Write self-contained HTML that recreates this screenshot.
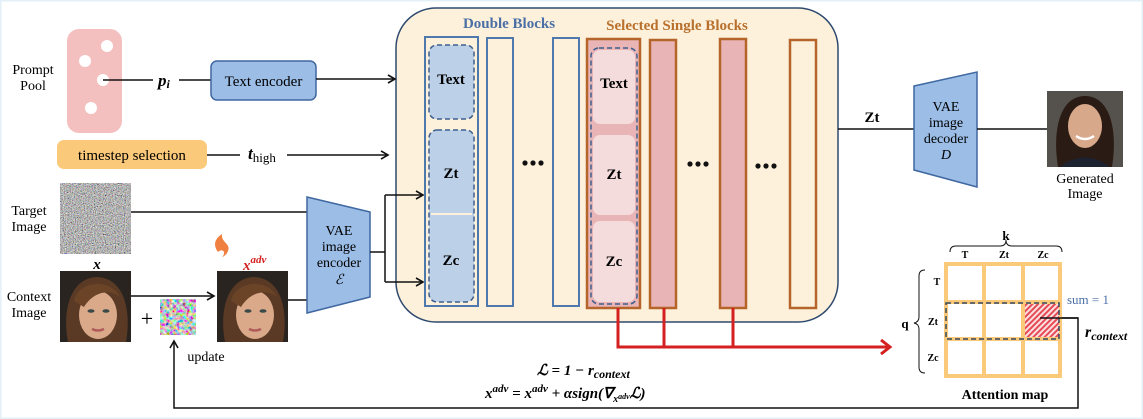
<!DOCTYPE html>
<html><head><meta charset="utf-8"><style>
html,body{margin:0;padding:0;background:#fff}
svg{display:block}
text{font-family:"Liberation Serif",serif}
</style></head><body>
<svg width="1143" height="419" viewBox="0 0 1143 419" xmlns="http://www.w3.org/2000/svg">
<defs>
<marker id="ar" markerWidth="10" markerHeight="10" refX="8" refY="5" orient="auto" markerUnits="userSpaceOnUse"><path d="M1,1 L8,5 L1,9" fill="none" stroke="#111" stroke-width="1.6"/></marker>
<marker id="arr" markerWidth="14" markerHeight="16" refX="11" refY="8" orient="auto" markerUnits="userSpaceOnUse"><path d="M2,1 L11,8 L2,15" fill="none" stroke="#d42020" stroke-width="3"/></marker>
<pattern id="hatch" width="4" height="4" patternUnits="userSpaceOnUse" patternTransform="rotate(45)"><rect width="4" height="4" fill="#fbe0e0"/><rect width="2" height="4" fill="#e64a56"/></pattern>
<filter id="noise" x="0" y="0" width="100%" height="100%"><feTurbulence type="fractalNoise" baseFrequency="0.9" numOctaves="2" seed="3"/><feColorMatrix type="matrix" values="1.2 0.5 0.3 0 -0.55  0.4 1.2 0.4 0 -0.55  0.3 0.5 1.2 0 -0.55  0 0 0 0 1"/></filter>
<filter id="noise2" x="0" y="0" width="100%" height="100%"><feTurbulence type="fractalNoise" baseFrequency="0.3" numOctaves="2" seed="7"/><feColorMatrix type="matrix" values="2.2 0 -0.5 0 -0.3  -0.5 2.2 0 0 -0.3  0 -0.5 2.2 0 -0.3  0 0 0 0 1"/></filter>
<g id="face">
<rect x="0" y="0" width="71" height="71" fill="#2a2420"/>
<path d="M8,71 C2,40 10,8 36,6 C62,6 72,35 66,71 Z" fill="#5a3a24"/>
<ellipse cx="38" cy="44" rx="19" ry="24" fill="#d9a98a"/>
<path d="M14,30 C18,10 50,6 60,26 C50,18 34,20 24,36 Z" fill="#6b4428"/>
<ellipse cx="31" cy="40" rx="3.5" ry="1.8" fill="#3b4a48"/><ellipse cx="46" cy="40" rx="3.5" ry="1.8" fill="#3b4a48"/>
<path d="M32,58 Q38,61 44,58" stroke="#b05a5a" stroke-width="2.5" fill="none"/>
</g>
</defs>
<rect x="0.5" y="0.5" width="1142" height="418" fill="#fff" stroke="#e3f0f8" stroke-width="2"/>

<rect x="396" y="8" width="442" height="314" rx="40" fill="#fdf1dc" stroke="#2e4a6e" stroke-width="1.5"/>

<text x="33" y="74" font-size="14" text-anchor="middle">Prompt</text>
<text x="33" y="90" font-size="14" text-anchor="middle">Pool</text>
<rect x="67" y="29" width="55" height="104" rx="12" fill="#f4c0bf"/>
<circle cx="107" cy="46" r="6" fill="#fff"/><circle cx="85" cy="61" r="6" fill="#fff"/><circle cx="103" cy="80" r="6" fill="#fff"/><circle cx="91" cy="108" r="6" fill="#fff"/>
<line x1="103" y1="80" x2="153" y2="80" stroke="#111" stroke-width="1.5"/>
<text x="158" y="86" font-size="17" font-weight="bold" font-style="italic">p<tspan font-size="12" dy="2">i</tspan></text>
<line x1="179" y1="80" x2="211" y2="80" stroke="#111" stroke-width="1.5"/>
<rect x="211" y="61" width="105" height="39" rx="6" fill="#9bbde6" stroke="#3f67a0" stroke-width="1.5"/>
<text x="263.5" y="86" font-size="15" text-anchor="middle">Text encoder</text>
<line x1="316" y1="79" x2="395" y2="79" stroke="#111" stroke-width="1.5" marker-end="url(#ar)"/>

<rect x="57" y="140" width="150" height="29" rx="7" fill="#fbc97a"/>
<text x="132" y="160" font-size="15" text-anchor="middle">timestep selection</text>
<line x1="207" y1="155" x2="240" y2="155" stroke="#111" stroke-width="1.5"/>
<text x="248" y="159" font-size="17" font-weight="bold" font-style="italic">t<tspan font-size="13" font-weight="normal" font-style="normal" dy="3">high</tspan></text>
<line x1="287" y1="155" x2="388" y2="155" stroke="#111" stroke-width="1.5" marker-end="url(#ar)"/>

<text x="29" y="215" font-size="14" text-anchor="middle">Target</text>
<text x="29" y="231" font-size="14" text-anchor="middle">Image</text>
<rect x="60" y="183" width="71" height="71" fill="#888"/>
<rect x="60" y="183" width="71" height="71" filter="url(#noise)"/>
<line x1="131" y1="212" x2="307" y2="212" stroke="#111" stroke-width="1.5"/>
<text x="97" y="269" font-size="15" font-weight="bold" font-style="italic" text-anchor="middle">x</text>
<text x="29" y="301" font-size="14" text-anchor="middle">Context</text>
<text x="29" y="317" font-size="14" text-anchor="middle">Image</text>
<use href="#face" x="60" y="271"/>
<line x1="131" y1="296" x2="214" y2="296" stroke="#111" stroke-width="1.5" marker-end="url(#ar)"/>
<text x="147" y="326" font-size="22" text-anchor="middle">+</text>
<rect x="160" y="299" width="36" height="36" filter="url(#noise2)"/>
<text x="206" y="361" font-size="14" text-anchor="middle">update</text>
<path d="M218,252 C212,244 216,238 222,234 C221,240 226,242 228,246 C230,250 226,256 222,257 C227,252 222,248 218,252 Z" fill="#f08040"/>
<text x="243" y="270" font-size="15" font-weight="bold" font-style="italic" fill="#d42020">x<tspan font-size="11" dy="-7">adv</tspan></text>
<use href="#face" x="217" y="271"/>
<line x1="288" y1="300" x2="307" y2="300" stroke="#111" stroke-width="1.5"/>

<polygon points="307,197 370,212 370,297 307,313" fill="#9bbde6" stroke="#3f67a0" stroke-width="1.5"/>
<text x="339" y="235" font-size="14" text-anchor="middle">VAE</text>
<text x="339" y="251" font-size="14" text-anchor="middle">image</text>
<text x="339" y="267" font-size="14" text-anchor="middle">encoder</text>
<text x="339" y="284" font-size="14" font-style="italic" text-anchor="middle">ℰ</text>
<polyline points="370,252 385,252" fill="none" stroke="#111" stroke-width="1.5"/>
<line x1="385" y1="195" x2="385" y2="282" stroke="#111" stroke-width="1.5"/>
<line x1="385" y1="195" x2="423" y2="195" stroke="#111" stroke-width="1.5" marker-end="url(#ar)"/>
<line x1="385" y1="282" x2="423" y2="282" stroke="#111" stroke-width="1.5" marker-end="url(#ar)"/>

<text x="509" y="28" font-size="15" font-weight="bold" fill="#4a6fa5" text-anchor="middle">Double Blocks</text>
<text x="677" y="30" font-size="15" font-weight="bold" fill="#b8702c" text-anchor="middle">Selected Single Blocks</text>

<rect x="425" y="37" width="53" height="269" fill="none" stroke="#4f79ad" stroke-width="2"/>
<rect x="429" y="45" width="45" height="74" rx="8" fill="#bcd0e8" stroke="#3f5f8f" stroke-width="1.5" stroke-dasharray="5,3"/>
<rect x="429" y="130" width="45" height="172" rx="8" fill="#bcd0e8" stroke="#3f5f8f" stroke-width="1.5" stroke-dasharray="5,3"/>
<line x1="431" y1="214" x2="472" y2="214" stroke="#fdf1dc" stroke-width="2"/>
<text x="451" y="84" font-size="15" font-weight="bold" text-anchor="middle">Text</text>
<text x="451" y="178" font-size="15" font-weight="bold" text-anchor="middle">Zt</text>
<text x="451" y="265" font-size="15" font-weight="bold" text-anchor="middle">Zc</text>
<rect x="487" y="38" width="26" height="268" fill="none" stroke="#4f79ad" stroke-width="2"/>
<circle cx="525" cy="163" r="2.6" fill="#111"/><circle cx="533" cy="163" r="2.6" fill="#111"/><circle cx="541" cy="163" r="2.6" fill="#111"/>
<rect x="553" y="38" width="26" height="268" fill="none" stroke="#4f79ad" stroke-width="2"/>

<rect x="587" y="39" width="53" height="269" fill="#e8b4b6" stroke="#b5642a" stroke-width="2.5"/>
<rect x="591" y="48" width="46" height="256" rx="8" fill="#e8b4b6" stroke="#3f5f8f" stroke-width="1.5" stroke-dasharray="5,3"/>
<rect x="593" y="50" width="42" height="74" rx="7" fill="#f4dcdc"/>
<rect x="593" y="135" width="42" height="80" rx="7" fill="#f4dcdc"/>
<rect x="593" y="221" width="42" height="81" rx="7" fill="#f4dcdc"/>
<text x="614" y="88" font-size="15" font-weight="bold" text-anchor="middle">Text</text>
<text x="614" y="179" font-size="15" font-weight="bold" text-anchor="middle">Zt</text>
<text x="614" y="266" font-size="15" font-weight="bold" text-anchor="middle">Zc</text>
<rect x="650" y="40" width="26" height="268" fill="#e8b4b6" stroke="#b5642a" stroke-width="2.5"/>
<circle cx="690" cy="164" r="2.6" fill="#111"/><circle cx="698" cy="164" r="2.6" fill="#111"/><circle cx="706" cy="164" r="2.6" fill="#111"/>
<rect x="720" y="39" width="26" height="269" fill="#e8b4b6" stroke="#b5642a" stroke-width="2.5"/>
<circle cx="758" cy="166" r="2.6" fill="#111"/><circle cx="766" cy="166" r="2.6" fill="#111"/><circle cx="774" cy="166" r="2.6" fill="#111"/>
<rect x="790" y="40" width="26" height="268" fill="none" stroke="#b5642a" stroke-width="2.5"/>

<polyline points="618,308 618,347 890,347" fill="none" stroke="#d42020" stroke-width="3" marker-end="url(#arr)"/>
<line x1="664" y1="308" x2="664" y2="347" stroke="#d42020" stroke-width="3"/>
<line x1="733" y1="308" x2="733" y2="347" stroke="#d42020" stroke-width="3"/>

<text x="537" y="375" font-size="15" font-weight="bold" font-style="italic">ℒ = 1 − r<tspan font-size="12" dy="3">context</tspan></text>
<text x="485" y="398" font-size="15" font-weight="bold" font-style="italic">x<tspan font-size="11" dy="-6">adv</tspan><tspan dy="6"> = x</tspan><tspan font-size="11" dy="-6">adv</tspan><tspan dy="6"> + αsign(∇</tspan><tspan font-size="10" dy="4">x</tspan><tspan font-size="8" dy="-3">adv</tspan><tspan dy="-1">ℒ)</tspan></text>

<polyline points="1040,318 1078,318 1078,408 174,408 174,341" fill="none" stroke="#111" stroke-width="1.5" marker-end="url(#ar)"/>

<line x1="838" y1="129" x2="914" y2="129" stroke="#111" stroke-width="1.5"/>
<text x="872" y="122" font-size="15" font-weight="bold" text-anchor="middle">Zt</text>
<polygon points="914,86 977,72 977,187 914,170" fill="#9bbde6" stroke="#3f67a0" stroke-width="1.5"/>
<text x="946" y="111" font-size="14" text-anchor="middle">VAE</text>
<text x="946" y="127" font-size="14" text-anchor="middle">image</text>
<text x="946" y="143" font-size="14" text-anchor="middle">decoder</text>
<text x="946" y="159" font-size="14" font-style="italic" text-anchor="middle">D</text>
<line x1="977" y1="129" x2="1047" y2="129" stroke="#111" stroke-width="1.5"/>
<g>
<rect x="1047" y="91" width="76" height="76" fill="#55524e"/>
<path d="M1058,167 C1052,130 1060,96 1085,96 C1110,96 1118,130 1112,167 Z" fill="#2a1c14"/>
<ellipse cx="1085" cy="126" rx="17" ry="22" fill="#d8a88a"/>
<path d="M1060,167 Q1085,148 1110,167 Z" fill="#1d2230"/>
<path d="M1076,136 Q1085,142 1094,136" stroke="#fff" stroke-width="2.5" fill="none"/>
</g>
<text x="1085" y="183" font-size="14" text-anchor="middle">Generated</text>
<text x="1085" y="198" font-size="14" text-anchor="middle">Image</text>

<text x="1006" y="240" font-size="13" font-weight="bold" text-anchor="middle">k</text>
<path d="M950,252 Q950,246 956,246 L1000,246 Q1006,246 1006,240 Q1006,246 1012,246 L1056,246 Q1062,246 1062,252" fill="none" stroke="#111" stroke-width="1"/>
<text x="965" y="258" font-size="10" font-weight="bold" text-anchor="middle">T</text>
<text x="1004" y="258" font-size="10" font-weight="bold" text-anchor="middle">Zt</text>
<text x="1043" y="258" font-size="10" font-weight="bold" text-anchor="middle">Zc</text>
<rect x="946" y="264" width="114" height="112" fill="#fff" stroke="#fbc97a" stroke-width="4"/>
<line x1="984" y1="264" x2="984" y2="376" stroke="#fbc97a" stroke-width="4"/>
<line x1="1023" y1="264" x2="1023" y2="376" stroke="#fbc97a" stroke-width="4"/>
<line x1="946" y1="302" x2="1060" y2="302" stroke="#fbc97a" stroke-width="4"/>
<line x1="946" y1="339" x2="1060" y2="339" stroke="#fbc97a" stroke-width="4"/>
<rect x="1025" y="304" width="34" height="33" fill="url(#hatch)"/>
<rect x="946" y="303" width="113" height="36" fill="none" stroke="#34495e" stroke-width="1.5" stroke-dasharray="5,3"/>
<line x1="1040" y1="318" x2="1078" y2="318" stroke="#111" stroke-width="1.5"/>
<text x="937" y="285" font-size="10" font-weight="bold" text-anchor="middle">T</text>
<text x="933" y="325" font-size="10" font-weight="bold" text-anchor="middle">Zt</text>
<text x="933" y="361" font-size="10" font-weight="bold" text-anchor="middle">Zc</text>
<path d="M925,270 Q919,270 919,276 L919,317 Q919,322 914,323 Q919,324 919,329 L919,367 Q919,373 925,373" fill="none" stroke="#111" stroke-width="1"/>
<text x="905" y="328" font-size="13" font-weight="bold" text-anchor="middle">q</text>
<text x="1067" y="304" font-size="13" fill="#4a6fa5">sum = 1</text>
<text x="1085" y="337" font-size="16" font-weight="bold" font-style="italic">r<tspan font-size="12" dy="3">context</tspan></text>
<text x="1005" y="399" font-size="14" font-weight="bold" text-anchor="middle">Attention map</text>
</svg>
</body></html>
